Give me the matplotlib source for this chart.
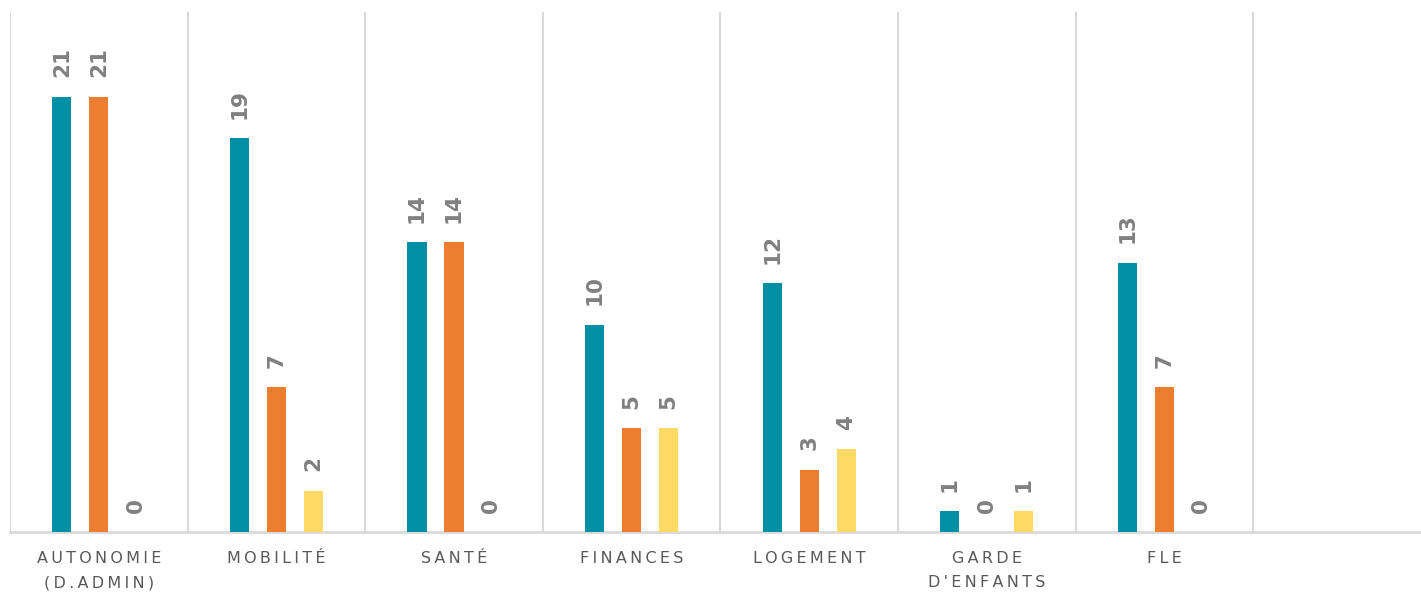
import numpy as np
import matplotlib
matplotlib.use("Agg")
import matplotlib.pyplot as plt

categories = ["AUTONOMIE\n(D.ADMIN)", "MOBILITÉ", "SANTÉ", "FINANCES",
              "LOGEMENT", "GARDE\nD'ENFANTS", "FLE", ""]
serie_1 = [21, 19, 14, 10, 12, 1, 13]
serie_2 = [21, 7, 14, 5, 3, 0, 7]
serie_3 = [0, 2, 0, 5, 4, 1, 0]

colors = ["#008FA5", "#ED7D31", "#FFD966"]
grid_color = "#D9D9D9"
label_color = "#808080"


def spaced(txt):
    # letter spacing imitation with thin spaces
    return "\n".join("\u2009".join(line) for line in txt.split("\n"))


def main():
    fig = plt.figure(figsize=(14.21, 5.95), dpi=100)
    ax = fig.add_axes([10 / 1421, 63 / 595, 1 - 10 / 1421, 520 / 595])

    x = np.arange(len(serie_1))
    offset = 0.208
    width = 0.108
    for i, vals in enumerate([serie_1, serie_2, serie_3]):
        pos = x + (i - 1) * offset
        ax.bar(pos, vals, width=width, color=colors[i], zorder=3)
        for p, v in zip(pos, vals):
            ax.annotate(str(v), (p, v), xytext=(0, 14), textcoords="offset points",
                        rotation=90, ha="center", va="bottom",
                        fontsize=15.5, fontweight="bold", color=label_color)

    ax.set_xlim(-0.5, -0.5 + 1411 / 177.6)
    ax.set_ylim(0, 25.1)

    for b in np.arange(-0.5, len(categories), 1.0):
        ax.axvline(b, color=grid_color, lw=1.5, zorder=1)

    for s in ["top", "right", "left"]:
        ax.spines[s].set_visible(False)
    ax.spines["bottom"].set_color(grid_color)
    ax.spines["bottom"].set_linewidth(2)

    ax.set_yticks([])
    ax.set_xticks(np.arange(len(categories)))
    ax.set_xticklabels([spaced(c) for c in categories], fontsize=11.5,
                       color="#595959", linespacing=1.75)
    ax.tick_params(axis="x", length=0, pad=14)

    fig.savefig("out.png", dpi=100)


if __name__ == "__main__":
    main()
